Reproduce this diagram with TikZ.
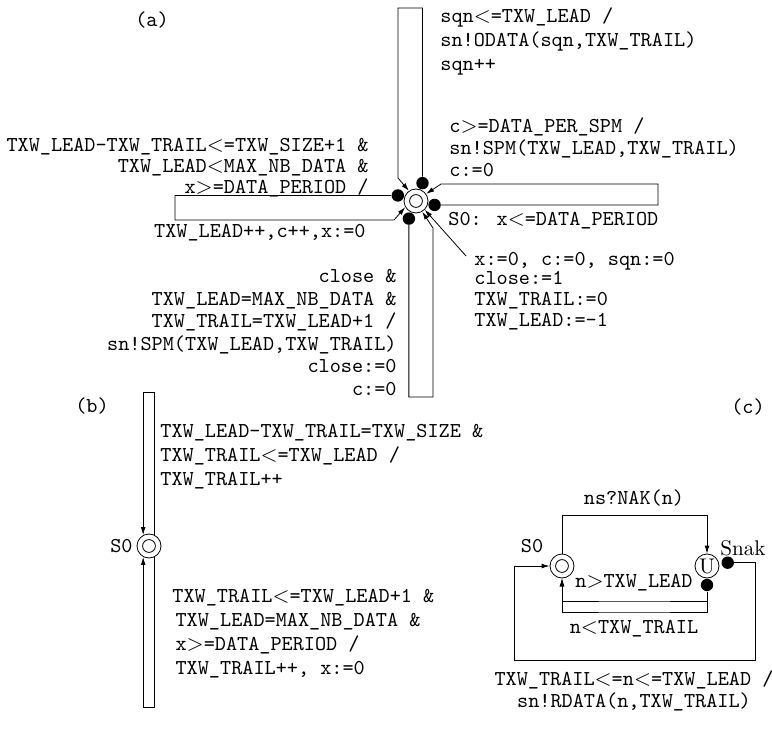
\documentclass[tikz,border=0pt]{standalone}
\usepackage{tikz}
\usetikzlibrary{arrows.meta, positioning}

\begin{document}
\begin{tikzpicture}[
x=0.5pt, y=-0.5pt,
state/.style={
circle,
draw,
minimum size=12pt,
inner sep=0pt,
path picture={\draw (path picture bounding box.center) circle (3.2pt);}
},
plainstate/.style={
circle,
draw,
minimum size=12pt,
inner sep=0pt,
font=\rmfamily\fontsize{10.6}{12}\selectfont
},
dot/.style={circle, fill, minimum size=6.2pt, inner sep=0pt},
lbl/.style={inner sep=0pt, font=\ttfamily\fontsize{10.6}{#1}\selectfont},
lbl/.default=12,
arrow/.style={-{Latex[length=4pt,width=2.4pt]}}
]
\useasboundingbox (0,0) rectangle (772,738);

% (a) sender
\node[lbl] (tag a) at (152,20) {(a)};
\node[state] (s0) at (416,201) {};

\node[dot, anchor=250] (dtop) at (s0.70) {};
\node[dot, anchor=-17] (dleft) at (s0.163) {};
\node[dot, anchor=168] (dright) at (s0.-12) {};
\node[dot, anchor=68] (dbot) at (s0.-112) {};

% Loops
\draw[arrow] (dtop.north) |- (398,8) -- (398,178) -- (s0.125);
\draw[arrow] (dleft.west) -| (175,220) -- (394,220) -- (s0.210);
\draw[arrow] (dright.east) -| (658,184) -- (441,184) -- (s0.35);
\draw[arrow] (dbot.south) |- (433,397) -- (433,228) -- (s0.-60);

% Initial
\coordinate (init) at (466,256);
\draw[arrow] (init) -- (s0.-45);

% Labels
\node[lbl=12.2, anchor=north west, align=left] (lab odata) at (440,7)
{sqn$<$=TXW\_LEAD /\\
sn!ODATA(sqn,TXW\_TRAIL)\\
sqn++};

\node[lbl=11, anchor=north west, align=left] (lab spm) at (449,117)
{c$>$=DATA\_PER\_SPM /\\
sn!SPM(TXW\_LEAD,TXW\_TRAIL)\\
c:=0};

\node[lbl=10.5, anchor=north east, align=right] (lab send) at (369,138)
{TXW\_LEAD-TXW\_TRAIL$<$=TXW\_SIZE+1 \&\\
TXW\_LEAD$<$MAX\_NB\_DATA \&\\
x$>$=DATA\_PERIOD /};

\node[lbl, anchor=east] (lab inc) at (366,233) {TXW\_LEAD++,c++,x:=0};

\node[lbl=11.3, anchor=north east, align=right] (lab close) at (397,269)
{close \&\\
TXW\_LEAD=MAX\_NB\_DATA \&\\
TXW\_TRAIL=TXW\_LEAD+1 /\\
sn!SPM(TXW\_LEAD,TXW\_TRAIL)\\
close:=0\\
c:=0};

\node[lbl, anchor=west] (lab inv) at (448,221) {S0: x$<$=DATA\_PERIOD};

\node[lbl=10.5, anchor=north west, align=left] (lab init) at (474,252)
{x:=0, c:=0, sqn:=0\\[-1pt]
close:=1\\
TXW\_TRAIL:=0\\
TXW\_LEAD:=-1};

% (b) receiver window
\node[lbl] (tag b) at (92,406) {(b)};
\node[state] (s0b) at (149,546) {};
\node[lbl, anchor=east] (s0b name) at (133,546) {S0};

\draw[arrow] (s0b.62) -- ++(0,-143) -| (s0b.118);
\draw[arrow] (s0b.-62) -- ++(0,150) -| (s0b.-118);

\node[lbl, anchor=north west, align=left] (lab slide) at (160,424)
{TXW\_LEAD-TXW\_TRAIL=TXW\_SIZE \&\\
TXW\_TRAIL$<$=TXW\_LEAD /\\
TXW\_TRAIL++};

\node[lbl, anchor=north west, align=left] (lab trail) at (172,589)
{TXW\_TRAIL$<$=TXW\_LEAD+1 \&\\
\hspace*{1.6pt}TXW\_LEAD=MAX\_NB\_DATA \&\\
\hspace*{1.6pt}x$>$=DATA\_PERIOD /\\
\hspace*{1.6pt}TXW\_TRAIL++, x:=0};

% (c) NAK handling
\node[lbl] (tag c) at (748,407) {(c)};
\node[state] (s0c) at (562,566) {};
\node[plainstate] (u) at (707,566) {U};
\node[lbl] (s0c name) at (532,546) {S0};
\node[inner sep=0pt, font=\rmfamily\fontsize{10.6}{12}\selectfont] (u name) at (743,548) {Snak};

\node[dot, anchor=190] (dsnak) at ([xshift=1pt]u.10) {};
\node[dot, anchor=north] (dlead) at (u.south) {};

\draw[arrow] (s0c.north) -- ++(0,-38) -| (u.north);
\draw[arrow] (dsnak.east) -| (755,660) -| (514,566) -- (s0c.west);
\draw[arrow] (dlead.south) |- (634,601) -| (s0c.south);
\draw[arrow] (dlead.south) |- (634,612) -| (s0c.south);

\node[lbl] (lab nak) at (634,498) {ns?NAK(n)};
\node[lbl] (lab lead) at (634,583) {n$>$TXW\_LEAD};
\node[lbl] (lab trailc) at (634,629) {n$<$TXW\_TRAIL};
\node[lbl=11, align=center] (lab rdata) at (634,691)
{TXW\_TRAIL$<$=n$<$=TXW\_LEAD /\\
sn!RDATA(n,TXW\_TRAIL)};

\end{tikzpicture}
\end{document}
